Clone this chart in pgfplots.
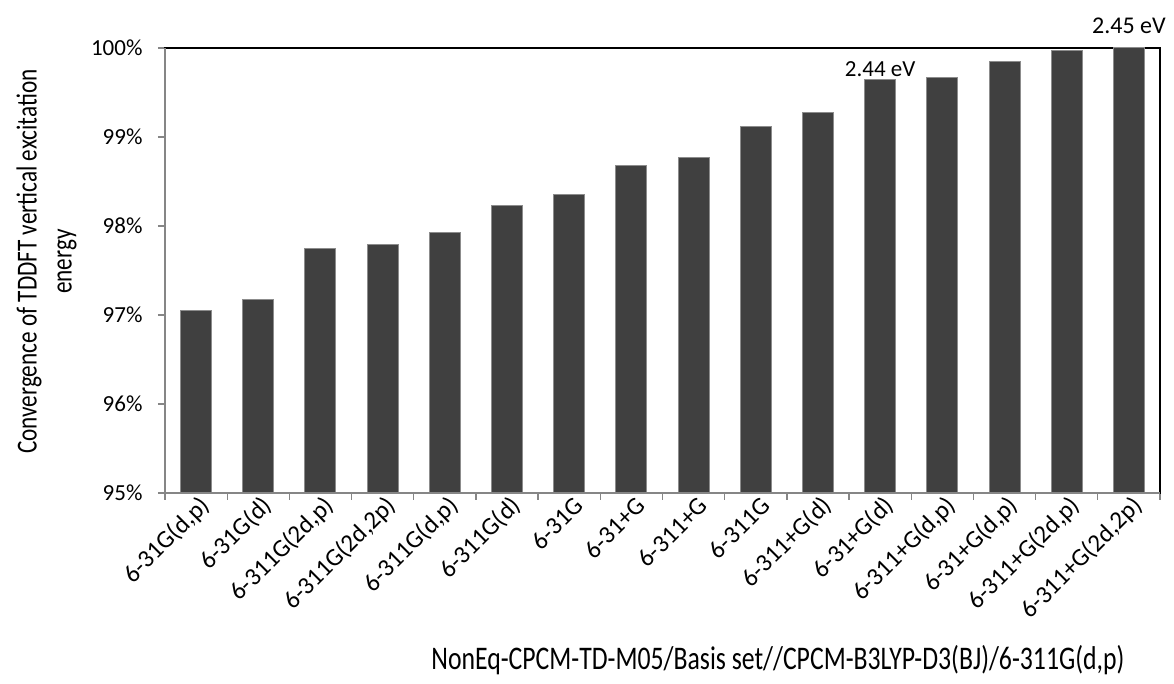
\documentclass[border=0pt]{standalone}
\usepackage{pgfplots}
\pgfplotsset{compat=1.18}
\usepackage{fontspec}
\setmainfont{Carlito}
% the axis titles in the reference are set in a narrower cut
\newfontfamily\narrowx{Carlito}[FakeStretch=0.78]
\newfontfamily\narrowy{Carlito}[FakeStretch=0.80]

\definecolor{barfill}{HTML}{404040}
\definecolor{barline}{HTML}{8C8C8C}
\definecolor{axgray}{HTML}{868686}

\begin{document}
\begin{tikzpicture}
	\begin{axis}[
		at={(0,0)}, anchor=south west,
		scale only axis,
		width=995pt, height=445pt,
		clip mode=individual,
		ybar, bar width=31pt,
		xmin=-0.5, xmax=15.5,
		ymin=95, ymax=100,
		ytick={95,96,97,98,99,100},
		yticklabels={95\%,96\%,97\%,98\%,99\%,100\%},
		yticklabel style={xshift=-12pt, font=\fontsize{23}{27}\selectfont},
		xtick={-0.5,0.5,...,15.5},
		xticklabels={},
		extra x ticks={0,1,...,15},
		extra x tick labels={{6-31G(d,p)},{6-31G(d)},{6-311G(2d,p)},{6-311G(2d,2p)},{6-311G(d,p)},{6-311G(d)},{6-31G},{6-31+G},{6-311+G},{6-311G},{6-311+G(d)},{6-31+G(d)},{6-311+G(d,p)},{6-31+G(d,p)},{6-311+G(2d,p)},{6-311+G(2d,2p)}},
		extra x tick style={major tick length=0pt,
			tick label style={rotate=45, anchor=east, xshift=4pt, yshift=-13pt,
				font=\fontsize{25}{29}\selectfont}},
		tick pos=left,
		tick align=outside,
		major tick length=7pt,
		tick style={color=axgray, line width=1.3pt},
		axis line style={black, line width=1.3pt},
		xlabel={NonEq-CPCM-TD-M05/Basis set//CPCM-B3LYP-D3(BJ)/6-311G(d,p)},
		xlabel style={font=\narrowx\fontsize{33}{38}\selectfont,
			at={(rel axis cs:0.616,-0.375)}, anchor=center},
		ylabel={Convergence of TDDFT vertical excitation\\energy},
		ylabel style={font=\narrowy\fontsize{29}{35}\selectfont, align=center,
			at={(rel axis cs:-0.119,0.52)}, anchor=center},
	]
		\addplot[fill=barfill, draw=barline, line width=1pt] coordinates {
			(0, 97.05)
			(1, 97.17)
			(2, 97.75)
			(3, 97.79)
			(4, 97.93)
			(5, 98.23)
			(6, 98.35)
			(7, 98.68)
			(8, 98.77)
			(9, 99.12)
			(10, 99.28)
			(11, 99.65)
			(12, 99.67)
			(13, 99.85)
			(14, 99.97)
			(15, 100.00)
		};
		% Excel-style grey left and bottom axis lines
		\draw[axgray, line width=1.3pt] (rel axis cs:0,1) -- (rel axis cs:0,0) -- (rel axis cs:1,0);
		\node[above, font=\fontsize{23}{27}\selectfont, inner sep=2pt] at (axis cs:11,99.65) {2.44 eV};
		\node[above, font=\fontsize{24}{28}\selectfont, inner sep=14pt] at (axis cs:15,100) {2.45 eV};
	\end{axis}
	\pgfresetboundingbox
	\path (-165pt,-191pt) rectangle (1009pt,493pt);
\end{tikzpicture}
\end{document}
